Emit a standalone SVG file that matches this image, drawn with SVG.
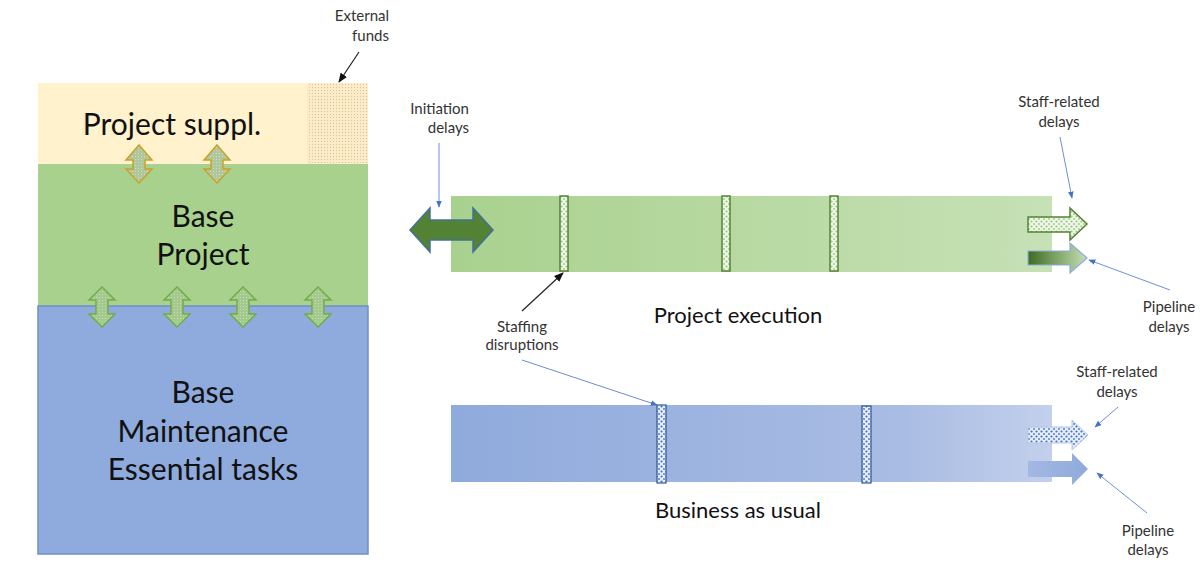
<svg xmlns="http://www.w3.org/2000/svg" width="1204" height="579" viewBox="0 0 1204 579">
  <defs>
    <style>
      .big { font-family: Lato, "Liberation Sans", sans-serif; font-size: 30px; fill: #111; text-anchor: middle; }
      .mid { font-family: Lato, "Liberation Sans", sans-serif; font-size: 22px; fill: #111; text-anchor: middle; }
      .lbl { font-family: Lato, "Liberation Sans", sans-serif; font-size: 15px; fill: #333; text-anchor: middle; }
      .lblr { font-family: Lato, "Liberation Sans", sans-serif; font-size: 15px; fill: #333; text-anchor: end; }
      .blueline { stroke: #6C8FD6; stroke-width: 1; fill: none; }
      .blackline { stroke: #222; stroke-width: 1.2; fill: none; }
      .gvarrow { fill: url(#hatchGreen); stroke: #70AD47; stroke-width: 1.5; }
      .yvarrow { fill: url(#hatchGold); stroke: #C9A227; stroke-width: 1.5; }
      .gdisrupt { fill: url(#dotsGreen); stroke: #548235; stroke-width: 1.5; }
      .bdisrupt { fill: url(#dotsBlue); stroke: #2F5597; stroke-width: 1.2; }
    </style>
    <marker id="tipBlue" viewBox="0 0 10 10" refX="9" refY="5" markerWidth="7" markerHeight="7" orient="auto">
      <path d="M0,1 L10,5 L0,9 Z" fill="#4472C4"/>
    </marker>
    <marker id="tipBlack" viewBox="0 0 10 10" refX="9" refY="5" markerWidth="8" markerHeight="8" orient="auto">
      <path d="M0,1 L10,5 L0,9 Z" fill="#111"/>
    </marker>
    <pattern id="hatchGreen" width="3" height="3" patternUnits="userSpaceOnUse">
      <rect width="3" height="3" fill="#A4C98C"/>
      <rect width="1" height="1" fill="#C9D9C0"/>
    </pattern>
    <pattern id="hatchGold" width="3" height="3" patternUnits="userSpaceOnUse">
      <rect width="3" height="3" fill="#AFC79C"/>
      <rect width="1" height="1" fill="#D8D9B8"/>
    </pattern>
    <pattern id="fundsDots" width="3" height="3" patternUnits="userSpaceOnUse">
      <rect width="3" height="3" fill="#FBEBC6"/>
      <rect width="1" height="1" fill="#D9C79A"/>
    </pattern>
    <pattern id="dotsGreen" width="5" height="5" patternUnits="userSpaceOnUse">
      <rect width="5" height="5" fill="#EEF6E8"/>
      <circle cx="1.5" cy="1.5" r="1.1" fill="#9CC784"/>
      <circle cx="4" cy="4" r="0.9" fill="#9CC784"/>
    </pattern>
    <pattern id="dotsBlue" width="5" height="5" patternUnits="userSpaceOnUse">
      <rect width="5" height="5" fill="#E8EEF9"/>
      <circle cx="1.5" cy="1.5" r="1.1" fill="#4472C4"/>
      <circle cx="4" cy="4" r="0.9" fill="#4472C4"/>
    </pattern>
    <linearGradient id="greenBar" x1="0" y1="0" x2="1" y2="0">
      <stop offset="0" stop-color="#A9D18E"/>
      <stop offset="1" stop-color="#C6E1B6"/>
    </linearGradient>
    <linearGradient id="blueBar" x1="0" y1="0" x2="1" y2="0">
      <stop offset="0" stop-color="#8FAADC"/>
      <stop offset="0.75" stop-color="#A9BCE3"/>
      <stop offset="1" stop-color="#C3D0EC"/>
    </linearGradient>
    <linearGradient id="pipeGreen" x1="0" y1="0" x2="1" y2="0">
      <stop offset="0" stop-color="#3E6B22"/>
      <stop offset="1" stop-color="#C5E0B4"/>
    </linearGradient>
    <linearGradient id="pipeBlue" x1="0" y1="0" x2="1" y2="0">
      <stop offset="0" stop-color="#A3B8E2"/>
      <stop offset="1" stop-color="#8FAADC"/>
    </linearGradient>
  </defs>

  <!-- Left stack: budget layers -->
  <g id="project-suppl">
    <rect x="38" y="83" width="330" height="81" fill="#FFF2CC"/>
    <rect x="307" y="83" width="61" height="81" fill="url(#fundsDots)"/>
    <text class="big" x="172" y="135">Project suppl.</text>
  </g>
  <g id="base-project">
    <rect x="38" y="164" width="330" height="142" fill="#A9D18E"/>
    <text class="big" x="203" y="227">Base</text>
    <text class="big" x="203" y="265">Project</text>
  </g>
  <g id="base-maintenance">
    <rect x="38" y="306" width="330" height="248" fill="#8FAADC" stroke="#6F8FC9" stroke-width="1.5"/>
    <text class="big" x="203" y="403">Base</text>
    <text class="big" x="203" y="442">Maintenance</text>
    <text class="big" x="203" y="480">Essential tasks</text>
  </g>

  <!-- Vertical exchange arrows between layers -->
  <g id="suppl-exchange">
    <path class="yvarrow" d="M139,145 L152,160 L145,160 L145,169 L152,169 L139,183 L126,169 L133,169 L133,160 L126,160 Z"/>
    <path class="yvarrow" d="M217,145 L230,160 L223,160 L223,169 L230,169 L217,183 L204,169 L211,169 L211,160 L204,160 Z"/>
  </g>
  <g id="base-exchange">
    <path class="gvarrow" d="M102,287 L115,300 L108,300 L108,314 L115,314 L102,327 L89,314 L96,314 L96,300 L89,300 Z"/>
    <path class="gvarrow" d="M177,287 L190,300 L183,300 L183,314 L190,314 L177,327 L164,314 L171,314 L171,300 L164,300 Z"/>
    <path class="gvarrow" d="M243,287 L256,300 L249,300 L249,314 L256,314 L243,327 L230,314 L237,314 L237,300 L230,300 Z"/>
    <path class="gvarrow" d="M318,287 L331,300 L324,300 L324,314 L331,314 L318,327 L305,314 L312,314 L312,300 L305,300 Z"/>
  </g>

  <!-- Project execution timeline -->
  <g id="project-execution">
    <rect x="451" y="196" width="601" height="76" fill="url(#greenBar)"/>
    <rect class="gdisrupt" x="560" y="196" width="8" height="75"/>
    <rect class="gdisrupt" x="722" y="196" width="8" height="75"/>
    <rect class="gdisrupt" x="830" y="196" width="8" height="75"/>
    <text class="mid" x="738" y="323">Project execution</text>
  </g>
  <g id="initiation-arrow">
    <path d="M410,230 L430,208 L430,220 L473,220 L473,208 L493,230 L473,252 L473,240 L430,240 L430,252 Z" fill="#548235" stroke="#41719C" stroke-width="1.5"/>
  </g>
  <g id="exec-staff-arrow">
    <path d="M1028,217 L1070,217 L1070,208 L1087,224 L1070,240 L1070,232 L1028,232 Z" fill="url(#dotsGreen)" stroke="#548235" stroke-width="1.5"/>
  </g>
  <g id="exec-pipeline-arrow">
    <path d="M1028,251 L1070,251 L1070,243 L1087,258 L1070,273 L1070,265 L1028,265 Z" fill="url(#pipeGreen)" stroke="#8FAADC" stroke-width="1.2"/>
  </g>

  <!-- Business as usual timeline -->
  <g id="business-as-usual">
    <rect x="451" y="405" width="601" height="77" fill="url(#blueBar)"/>
    <rect class="bdisrupt" x="657" y="405" width="9" height="78"/>
    <rect class="bdisrupt" x="862" y="406" width="9" height="77"/>
    <text class="mid" x="738" y="518">Business as usual</text>
  </g>
  <g id="bau-staff-arrow">
    <path d="M1028,427 L1072,427 L1072,420 L1088,435 L1072,450 L1072,443 L1028,443 Z" fill="url(#dotsBlue)" stroke="#B4C7E7" stroke-width="1"/>
  </g>
  <g id="bau-pipeline-arrow">
    <path d="M1028,461 L1072,461 L1072,453 L1088,469 L1072,485 L1072,477 L1028,477 Z" fill="url(#pipeBlue)"/>
  </g>

  <!-- Annotation labels -->
  <g id="external-funds-label">
    <text class="lblr" x="389" y="21">External</text>
    <text class="lblr" x="389" y="41">funds</text>
  </g>
  <g id="initiation-label">
    <text class="lblr" x="469" y="114">Initiation</text>
    <text class="lblr" x="469" y="133">delays</text>
  </g>
  <g id="exec-staff-label">
    <text class="lbl" x="1059" y="107">Staff-related</text>
    <text class="lbl" x="1059" y="127">delays</text>
  </g>
  <g id="exec-pipeline-label">
    <text class="lbl" x="1169" y="312">Pipeline</text>
    <text class="lbl" x="1169" y="332">delays</text>
  </g>
  <g id="staffing-label">
    <text class="lbl" x="522" y="332">Staffing</text>
    <text class="lbl" x="522" y="350">disruptions</text>
  </g>
  <g id="bau-staff-label">
    <text class="lbl" x="1117" y="377">Staff-related</text>
    <text class="lbl" x="1117" y="397">delays</text>
  </g>
  <g id="bau-pipeline-label">
    <text class="lbl" x="1148" y="536">Pipeline</text>
    <text class="lbl" x="1148" y="555">delays</text>
  </g>

  <!-- Pointer lines from labels -->
  <g id="connectors">
    <line class="blackline" x1="359" y1="52" x2="339" y2="82" marker-end="url(#tipBlack)"/>
    <line class="blueline" x1="439" y1="143" x2="439" y2="207" marker-end="url(#tipBlue)"/>
    <line class="blueline" x1="1060" y1="137" x2="1072" y2="198" marker-end="url(#tipBlue)"/>
    <line class="blueline" x1="1170" y1="290" x2="1089" y2="260" marker-end="url(#tipBlue)"/>
    <line class="blackline" x1="522" y1="311" x2="563" y2="273" marker-end="url(#tipBlack)"/>
    <line class="blueline" x1="522" y1="360" x2="657" y2="405" marker-end="url(#tipBlue)"/>
    <line class="blueline" x1="1118" y1="407" x2="1095" y2="427" marker-end="url(#tipBlue)"/>
    <line class="blueline" x1="1147" y1="513" x2="1097" y2="473" marker-end="url(#tipBlue)"/>
  </g>
</svg>
